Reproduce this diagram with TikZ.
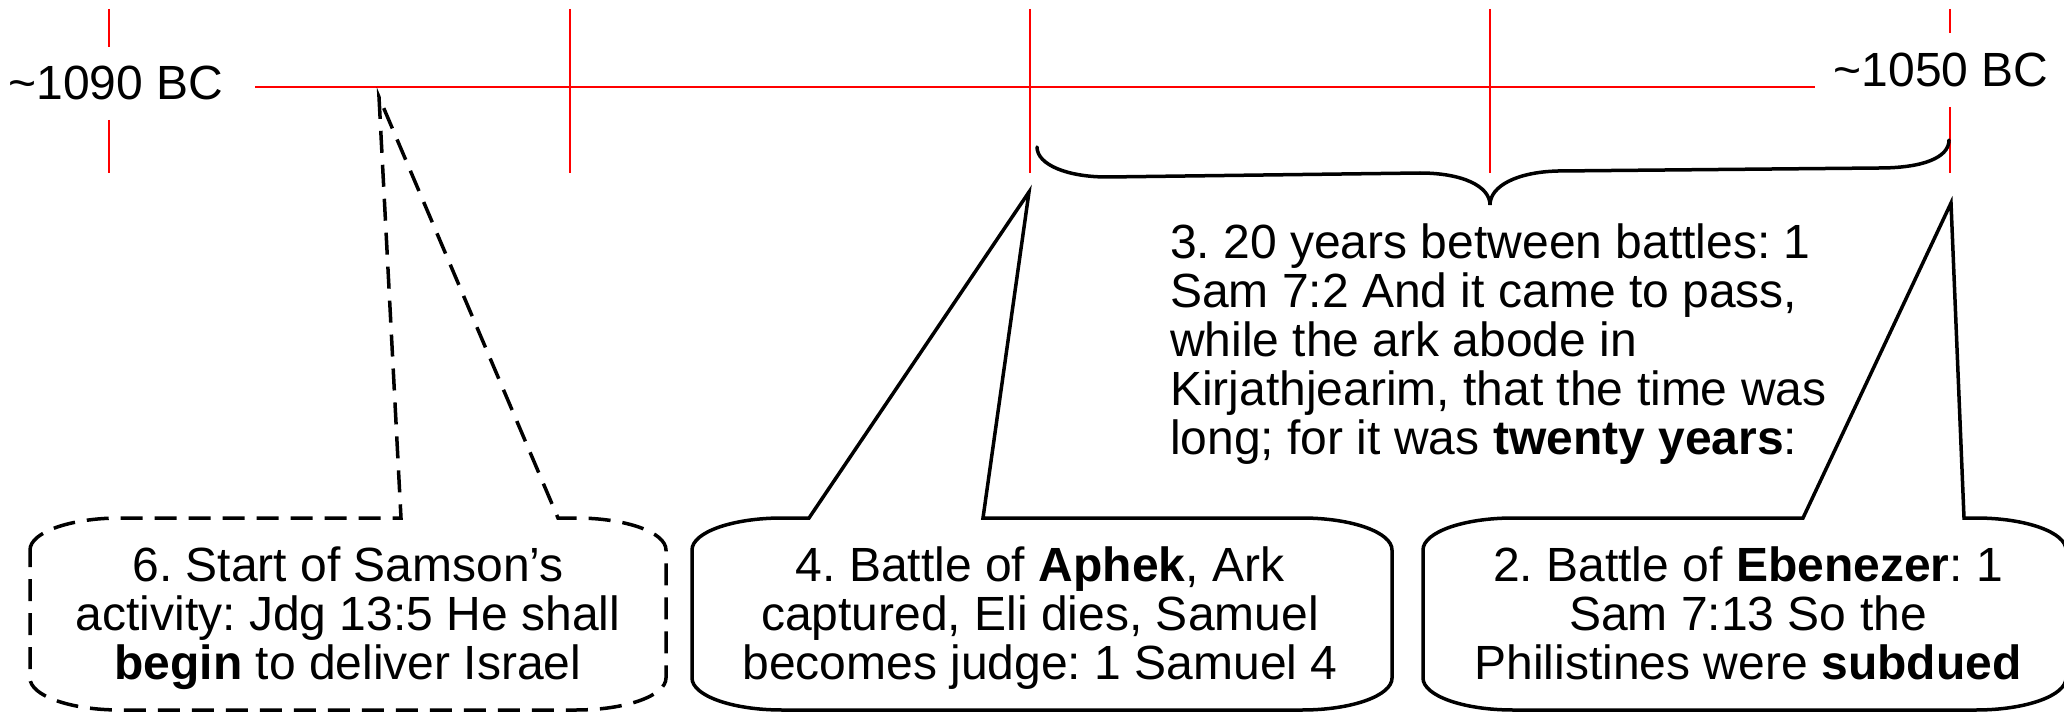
\documentclass[tikz,border=0pt]{standalone}
\usepackage{fontspec}
\setmainfont{Liberation Sans}
\frenchspacing
\newcommand\calloutshape[8]{% #1 style, #2 left, #3 top, #4 right, #5 bottom, #6 base1 x, #7 tip, #8 base2 x
  \path[#1] (#2,#3+32) .. controls (#2,#3+14.3) and (#2+40.3,#3) .. (#2+90,#3)
    -- (#6,#3) -- (#7) -- (#8,#3)
    -- (#4-90,#3) .. controls (#4-40.3,#3) and (#4,#3+14.3) .. (#4,#3+32)
    -- (#4,#5-32) .. controls (#4,#5-14.3) and (#4-40.3,#5) .. (#4-90,#5)
    -- (#2+90,#5) .. controls (#2+40.3,#5) and (#2,#5-14.3) .. (#2,#5-32) -- cycle;}
\begin{document}
\begin{tikzpicture}[x=1pt,y=-1pt,
  tickline/.style={draw=red, line width=2.2pt},
  axisline/.style={draw=red, line width=2.8pt},
  calloutbox/.style={draw=black, line width=3.5pt, line join=miter, fill=white},
  dashedbox/.style={calloutbox, dash pattern=on 22pt off 12pt},
  bigtext/.style={font=\fontsize{48}{48.8}\selectfont, inner sep=0pt},
  bracestroke/.style={draw=black, line width=3.5pt, line cap=round}
]
\useasboundingbox (0,0) rectangle (2064,714);

% timeline
\coordinate (axL) at (255,87);
\coordinate (axR) at (1815,87);
\draw[axisline] (axL) -- (axR);
\draw[tickline] (109,9) -- (109,47) (109,120) -- (109,173);
\draw[tickline] (570,9) -- (570,173);
\draw[tickline] (1030,9) -- (1030,173);
\draw[tickline] (1490,9) -- (1490,173);
\draw[tickline] (1950,9) -- (1950,33) (1950,107) -- (1950,173);

\node[bigtext, anchor=base] (t1090) at (116,100) {\textasciitilde 1090 BC};
\node[bigtext, anchor=base] (t1050) at (1941,87) {\textasciitilde 1050 BC};

% brace
\draw[bracestroke] (1037,147) .. controls (1037,165) and (1068,177) .. (1107,177)
  -- (1420,173) .. controls (1462,173) and (1490,186) .. (1490,205)
  .. controls (1490,186) and (1517,172) .. (1558,171)
  -- (1879,168) .. controls (1922,168) and (1949,158) .. (1949,140);

\node[bigtext, anchor=north west, align=left] (t3) at (1170,224)
  {3. 20 years between battles: 1\\Sam 7:2 And it came to pass,\\while the ark abode in\\Kirjathjearim, that the time was\\long; for it was \textbf{twenty years}:};

% callouts
\coordinate (tip6) at (379,97);
\coordinate (tip4) at (1029,192);
\coordinate (tip2) at (1951,203);
\calloutshape{dashedbox}{30}{518}{666}{710}{401}{tip6}{558}
\calloutshape{calloutbox}{692}{518}{1392}{710}{809}{tip4}{983}
\calloutshape{calloutbox}{1423}{518}{2066}{710}{1803}{tip2}{1964}

\node[bigtext, anchor=north, align=center] (t6) at (348,547)
  {6. Start of Samson’s\\activity: Jdg 13:5 He shall\\\textbf{begin} to deliver Israel};
\node[bigtext, anchor=north, align=center] (t4) at (1040,547)
  {4. Battle of \textbf{Aphek}, Ark\\captured, Eli dies, Samuel\\becomes judge: 1 Samuel 4};
\node[bigtext, anchor=north, align=center] (t2) at (1748,547)
  {2. Battle of \textbf{Ebenezer}: 1\\Sam 7:13 So the\\Philistines were \textbf{subdued}};
\end{tikzpicture}
\end{document}
